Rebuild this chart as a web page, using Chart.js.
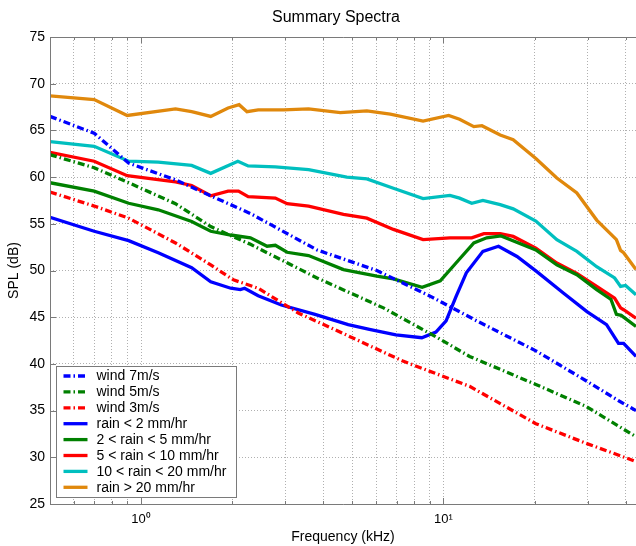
<!DOCTYPE html>
<html>
<head>
<meta charset="utf-8">
<script src="https://cdn.jsdelivr.net/npm/chart.js@4.4.0/dist/chart.umd.min.js"></script>
<style>
  html, body { margin: 0; padding: 0; background: #fff; overflow: hidden; }
  #wrap { width: 636px; height: 546px; }
</style>
</head>
<body>
<div id="wrap"><canvas id="spectraChart" width="636" height="546"></canvas></div>
<script>
// values (frequency in kHz, SPL in dB)
const wind7Freq = [0.5, 0.7, 0.91, 1.3, 1.7, 2.3, 3.82, 6.02, 9.1, 12.9, 20.2, 29.6, 38.2, 43.3];
const wind7Spl  = [66.5, 64.7, 61.5, 59.7, 58.0, 56.1, 52.2, 50.0, 47.2, 44.6, 41.4, 38.2, 36.0, 35.0];

const wind5Freq = [0.5, 0.7, 0.91, 1.3, 1.7, 2.3, 3.82, 6.33, 9.44, 12.2, 20.2, 29.6, 43.3];
const wind5Spl  = [62.4, 61.0, 59.4, 57.15, 54.7, 52.8, 49.2, 46.0, 42.9, 40.8, 37.8, 35.45, 32.2];

const wind3Freq = [0.5, 0.7, 0.91, 1.3, 1.7, 2.02, 2.44, 3.31, 4.42, 7.34, 12.2, 20.2, 29.6, 43.3];
const wind3Spl  = [58.4, 56.9, 55.6, 52.95, 50.6, 49.0, 48.1, 45.45, 43.6, 40.3, 37.6, 33.6, 31.5, 29.55];

const rain2Freq = [0.5, 0.7, 0.91, 1.14, 1.47, 1.7, 1.98, 2.13, 2.2, 2.44, 2.91, 3.76, 4.84, 5.69, 6.96, 8.48, 9.44,
                   10.2, 11.0, 11.9, 13.5, 15.2, 17.5, 20.3, 24.9, 29.8, 34.6, 37.9, 39.4, 43.3];
const rain2Spl  = [55.7, 54.2, 53.2, 51.9, 50.3, 48.8, 48.1, 47.95, 48.1, 47.3, 46.3, 45.3, 44.2, 43.7, 43.1, 42.8, 43.4,
                   44.6, 47.2, 49.75, 52.05, 52.6, 51.5, 49.9, 47.6, 45.6, 44.2, 42.2, 42.2, 40.8];

const rain5Freq = [0.5, 0.7, 0.91, 1.14, 1.47, 1.7, 1.98, 2.3, 2.61, 2.78, 3.04, 3.58, 4.67, 6.02, 6.83, 8.5, 9.76,
                   11.0, 12.6, 13.9, 15.5, 20.2, 23.7, 27.6, 32.1, 35.8, 37.3, 38.7, 43.3];
const rain5Spl  = [59.4, 58.5, 57.2, 56.5, 55.25, 54.2, 53.8, 53.5, 52.6, 52.7, 51.95, 51.6, 50.1, 49.4, 49.1, 48.2, 48.9,
                   50.8, 52.95, 53.5, 53.7, 52.2, 50.6, 49.55, 47.95, 46.9, 45.3, 45.2, 44.0];

const rain10Freq = [0.5, 0.7, 0.9, 1.3, 1.47, 1.7, 1.94, 2.1, 2.26, 2.78, 3.04, 3.58, 4.67, 5.58, 6.83, 8.56, 10.5,
                    12.4, 13.6, 15.4, 17.0, 20.2, 23.7, 27.6, 32.1, 36.8, 38.5, 39.4, 43.3];
const rain10Spl  = [62.65, 61.7, 60.15, 59.5, 59.1, 58.0, 58.5, 58.5, 57.9, 57.75, 57.15, 56.9, 56.0, 55.6, 54.4, 53.3, 53.5,
                    53.5, 53.95, 53.95, 53.65, 52.4, 50.8, 49.7, 48.3, 47.05, 46.0, 45.8, 44.9];

const rain20Freq = [0.5, 0.7, 0.91, 1.14, 1.47, 1.7, 2.09, 2.26, 2.78, 3.58, 4.79, 5.58, 6.83, 8.56, 10.5, 11.3,
                    12.4, 13.5, 15.4, 17.0, 20.2, 23.7, 27.6, 32.1, 36.8, 38.5, 40.0, 43.3];
const rain20Spl  = [63.8, 63.3, 61.7, 61.6, 61.25, 60.4, 61.7, 61.2, 61.1, 60.8, 60.0, 59.8, 58.8, 57.7, 58.05, 57.75,
                    57.2, 57.5, 57.05, 56.6, 55.3, 53.3, 52.05, 50.4, 49.2, 48.3, 48.4, 47.4];

const rainMaxFreq = [0.5, 0.7, 0.9, 1.3, 1.47, 1.7, 1.94, 2.11, 2.24, 2.44, 2.96, 3.58, 4.56, 5.58, 6.67, 8.56, 10.4,
                     11.3, 12.6, 13.4, 15.4, 17.0, 20.2, 23.7, 27.6, 32.1, 37.3, 38.5, 39.4, 43.3];
const rainMaxSpl  = [68.7, 68.3, 66.6, 67.3, 67.0, 66.5, 67.4, 67.75, 67.0, 67.2, 67.2, 67.3, 66.9, 67.1, 66.75, 66.0, 66.6,
                     66.2, 65.4, 65.5, 64.5, 64.0, 62.0, 59.9, 58.3, 55.4, 53.3, 52.15, 51.9, 50.1];

const seriesLabels = ['wind 7m/s', 'wind 5m/s', 'wind 3m/s', 'rain < 2 mm/hr', '2 < rain < 5 mm/hr',
                      '5 < rain < 10 mm/hr', '10 < rain < 20 mm/hr', 'rain > 20 mm/hr'];
const chartTitle = 'Summary Spectra';

// x axis: visible range is cut at the picture's right edge
const xMin = 0.5;
const xMax = 43.3;
const xGridTicks = [0.6, 0.7, 0.8, 0.9, 1, 2, 3, 4, 5, 6, 7, 8, 9, 10, 20, 30, 40];
const yTicks = [25, 30, 35, 40, 45, 50, 55, 60, 65, 70, 75];

const FONT = "'Liberation Sans', Arial, Helvetica, sans-serif";
const dashDot = [7, 3, 1.5, 3];

function pts(freqs, vals) {
    return freqs.map((f, i) => ({ x: f, y: vals[i] }));
}

function series(label, freqs, vals, color, dashed) {
    return {
        label: label,
        data: pts(freqs, vals),
        borderColor: color,
        backgroundColor: color,
        borderWidth: 3.3,
        borderDash: dashed ? dashDot : [],
        pointRadius: 0,
        tension: 0,
        fill: false
    };
}

// title centred the way the original figure has it (over the uncropped axes)
const titlePlugin = {
    id: 'figTitle',
    afterDraw(chart) {
        const ctx = chart.ctx;
        ctx.save();
        ctx.font = '16px ' + FONT;
        ctx.fillStyle = '#000';
        ctx.textAlign = 'center';
        ctx.textBaseline = 'middle';
        ctx.fillText(chartTitle, 336, 18);
        ctx.restore();
    }
};

// axis frame with MATLAB style inner ticks
const framePlugin = {
    id: 'frame',
    afterDatasetsDraw(chart) {
        const { ctx, chartArea: a, scales } = chart;
        ctx.save();
        ctx.strokeStyle = '#7a7a7a';
        ctx.lineWidth = 1;
        ctx.beginPath();
        ctx.moveTo(chart.width + 2, a.top + 0.5);
        ctx.lineTo(a.left + 0.5, a.top + 0.5);
        ctx.lineTo(a.left + 0.5, a.bottom + 0.5);
        ctx.lineTo(chart.width + 2, a.bottom + 0.5);
        ctx.stroke();
        ctx.beginPath();
        xGridTicks.forEach(v => {
            const px = Math.round(scales.x.getPixelForValue(v)) + 0.5;
            const len = (v === 1 || v === 10) ? 6 : 3;
            ctx.moveTo(px, a.bottom);
            ctx.lineTo(px, a.bottom - len);
            ctx.moveTo(px, a.top);
            ctx.lineTo(px, a.top + len);
        });
        yTicks.forEach(v => {
            const py = Math.round(scales.y.getPixelForValue(v)) + 0.5;
            ctx.moveTo(a.left, py);
            ctx.lineTo(a.left + 6, py);
        });
        ctx.stroke();
        ctx.restore();
    }
};

// boxed legend inside the lower left corner
const boxLegendPlugin = {
    id: 'boxLegend',
    afterDraw(chart) {
        const ctx = chart.ctx;
        const a = chart.chartArea;
        const x0 = a.left + 6.5, y0 = 366.5, w = 180, h = 131;
        ctx.save();
        ctx.fillStyle = '#ffffff';
        ctx.fillRect(x0, y0, w, h);
        ctx.strokeStyle = '#7a7a7a';
        ctx.lineWidth = 1;
        ctx.strokeRect(x0, y0, w, h);
        ctx.font = '14px ' + FONT;
        ctx.textBaseline = 'middle';
        ctx.textAlign = 'left';
        chart.data.datasets.forEach((ds, i) => {
            const y = 376 + i * 15.9;
            ctx.strokeStyle = ds.borderColor;
            ctx.lineWidth = ds.borderWidth;
            ctx.setLineDash(ds.borderDash);
            ctx.beginPath();
            ctx.moveTo(x0 + 7, y);
            ctx.lineTo(x0 + 31, y);
            ctx.stroke();
            ctx.setLineDash([]);
            ctx.fillStyle = '#000';
            ctx.fillText(ds.label, x0 + 40, y + 0.5);
        });
        ctx.restore();
    }
};

const ctx = document.getElementById('spectraChart').getContext('2d');
const spectraChart = new Chart(ctx, {
    type: 'line',
    data: {
        datasets: [
            series(seriesLabels[0], wind7Freq, wind7Spl, '#0000ff', true),
            series(seriesLabels[1], wind5Freq, wind5Spl, '#008000', true),
            series(seriesLabels[2], wind3Freq, wind3Spl, '#ff0000', true),
            series(seriesLabels[3], rain2Freq, rain2Spl, '#0000ff', false),
            series(seriesLabels[4], rain5Freq, rain5Spl, '#008000', false),
            series(seriesLabels[5], rain10Freq, rain10Spl, '#ff0000', false),
            series(seriesLabels[6], rain20Freq, rain20Spl, '#00bfbf', false),
            series(seriesLabels[7], rainMaxFreq, rainMaxSpl, '#e0880c', false)
        ]
    },
    options: {
        responsive: false,
        animation: false,
        layout: { padding: { top: 37, left: 0, right: 0, bottom: 0 } },
        plugins: {
            legend: { display: false },
            tooltip: { enabled: false },
            title: { display: false }
        },
        scales: {
            x: {
                type: 'logarithmic',
                min: xMin,
                max: xMax,
                afterBuildTicks: (scale) => {
                    scale.ticks = xGridTicks.map(v => ({ value: v, major: v === 1 || v === 10 }));
                },
                afterFit: (scale) => { scale.height = 42; },
                ticks: {
                    autoSkip: false,
                    maxRotation: 0,
                    padding: 8,
                    color: '#000',
                    font: { family: FONT, size: 13 },
                    callback: (v) => v === 1 ? '10\u2070' : (v === 10 ? '10\u00b9' : '')
                },
                grid: { color: '#b0b0b0', lineWidth: 1, drawTicks: false },
                border: { display: false, dash: [1, 2] },
                title: {
                    display: true,
                    text: 'Frequency (kHz)',
                    color: '#000',
                    font: { family: FONT, size: 14 },
                    padding: { top: 0, bottom: 0 }
                }
            },
            y: {
                min: 25,
                max: 75,
                afterBuildTicks: (scale) => {
                    scale.ticks = yTicks.map(v => ({ value: v }));
                },
                afterFit: (scale) => { scale.width = 50; },
                ticks: {
                    padding: 5,
                    color: '#000',
                    font: { family: FONT, size: 14 }
                },
                grid: { color: '#b0b0b0', lineWidth: 1, drawTicks: false },
                border: { display: false, dash: [1, 2] },
                title: {
                    display: true,
                    text: 'SPL (dB)',
                    color: '#000',
                    font: { family: FONT, size: 14 },
                    padding: { top: 6, bottom: 0 }
                }
            }
        }
    },
    plugins: [framePlugin, boxLegendPlugin, titlePlugin]
});
</script>
</body>
</html>
